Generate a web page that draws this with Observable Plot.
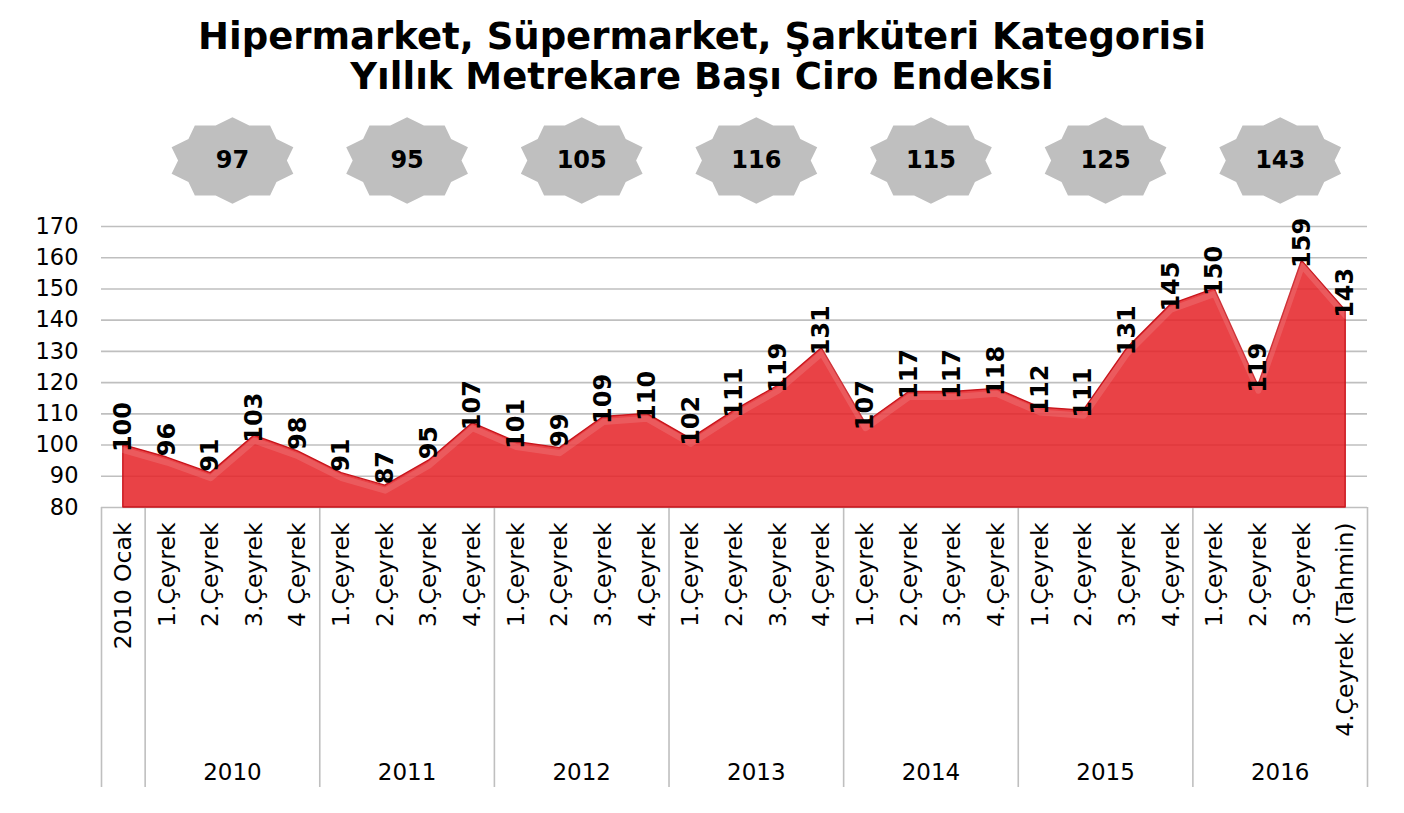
<!DOCTYPE html>
<html><head><meta charset="utf-8">
<script src="https://cdn.jsdelivr.net/npm/d3@7"></script>
<script src="https://cdn.jsdelivr.net/npm/@observablehq/plot@0.6"></script>
<style>
body{margin:0;background:#fff;font-family:"DejaVu Sans",Verdana,sans-serif;}
#title{height:105px;text-align:center;font-weight:bold;font-size:37px;line-height:40px;padding-top:17px;box-sizing:border-box;color:#000;}
#chart svg{display:block;}
</style></head><body>
<div id="title">Hipermarket, Süpermarket, Şarküteri Kategorisi<br>Yıllık Metrekare Başı Ciro Endeksi</div>
<div id="chart"></div>
<script>
const categories = ["2010 Ocak",
  "1.Çeyrek","2.Çeyrek","3.Çeyrek","4 Çeyrek",
  "1.Çeyrek","2.Çeyrek","3.Çeyrek","4.Çeyrek",
  "1.Çeyrek","2.Çeyrek","3.Çeyrek","4.Çeyrek",
  "1.Çeyrek","2.Çeyrek","3.Çeyrek","4.Çeyrek",
  "1.Çeyrek","2.Çeyrek","3.Çeyrek","4.Çeyrek",
  "1.Çeyrek","2.Çeyrek","3.Çeyrek","4.Çeyrek",
  "1.Çeyrek","2.Çeyrek","3.Çeyrek","4.Çeyrek (Tahmin)"];
const values = [100,
  96,91,103,98,
  91,87,95,107,
  101,99,109,110,
  102,111,119,131,
  107,117,117,118,
  112,111,131,145,
  150,119,159,143];
const years = ["2010","2011","2012","2013","2014","2015","2016"];
const yearIndex = [97,95,105,116,115,125,143];
const yTicks = [80,90,100,110,120,130,140,150,160,170];
const quartersPerYear = 4;

const data = values.map((v, i) => ({i, v, label: categories[i]}));
const yearData = years.map((y, k) => ({year: y, avg: yearIndex[k], c: 1 + k*quartersPerYear + (quartersPerYear-1)/2}));
const boundaries = [-0.5, 0.5, ...years.map((y, k) => 0.5 + (k+1)*quartersPerYear)];

const W = 1404, H = 700, mT = 121, mB = 298, mL = 101, mR = 37;
const frameH = H - mT - mB;

const star10 = {draw(context, size) {
  const r = Math.sqrt(size / Math.PI);
  const rx = r, ry = r * 0.675, k = 0.85;
  for (let j = 0; j < 20; j++) {
    const a = j * Math.PI / 10, f = j % 2 ? k : 1;
    const px = Math.sin(a) * rx * f, py = -Math.cos(a) * ry * f;
    if (j) context.lineTo(px, py); else context.moveTo(px, py);
  }
  context.closePath();
}};

const chart = Plot.plot({
  width: W, height: H,
  marginTop: mT, marginBottom: mB, marginLeft: mL, marginRight: mR,
  style: {fontFamily: "'DejaVu Sans', Verdana, sans-serif", color: "#000", background: "#fff", overflow: "visible"},
  x: {type: "linear", domain: [-0.5, values.length - 0.5], axis: null},
  y: {domain: [80, 170], axis: null},
  marks: [
    Plot.ruleY(yTicks, {stroke: "#bfbfbf", strokeWidth: 1.6}),
    Plot.ruleX(boundaries, {stroke: "#bfbfbf", strokeWidth: 1.6, insetTop: frameH, insetBottom: -280}),
    Plot.areaY(data, {x: "i", y1: yTicks[0], y2: "v", fill: "#e52328", fillOpacity: 0.86, stroke: "#c8141b", strokeWidth: 1.4}),
    Plot.line(data, {x: "i", y: "v", stroke: "#fff", strokeOpacity: 0.13, strokeWidth: 6, dy: 5}),
    Plot.axisY({ticks: yTicks, tickSize: 0, tickPadding: 23, fontSize: 22.5, anchor: "left", label: null}),
    Plot.text(data, {x: "i", y: "v", text: d => String(d.v), rotate: -90, textAnchor: "middle", lineAnchor: "middle", dy: -18, fontWeight: "bold", fontSize: 24, fill: "#000"}),
    Plot.text(data, {x: "i", text: "label", frameAnchor: "bottom", rotate: -90, textAnchor: "end", lineAnchor: "middle", dy: 15, fontSize: 23.5, fill: "#000"}),
    Plot.text(yearData, {x: "c", text: "year", frameAnchor: "bottom", lineAnchor: "middle", dy: 265, fontSize: 23, fill: "#000"}),
    Plot.dot(yearData, {x: "c", frameAnchor: "top", dy: -66, r: 64, symbol: star10, fill: "#bfbfbf", stroke: "none"}),
    Plot.text(yearData, {x: "c", text: d => String(d.avg), frameAnchor: "top", dy: -66, lineAnchor: "middle", fontWeight: "bold", fontSize: 24, fill: "#000"})
  ]
});
document.getElementById("chart").appendChild(chart);
</script>
</body></html>
